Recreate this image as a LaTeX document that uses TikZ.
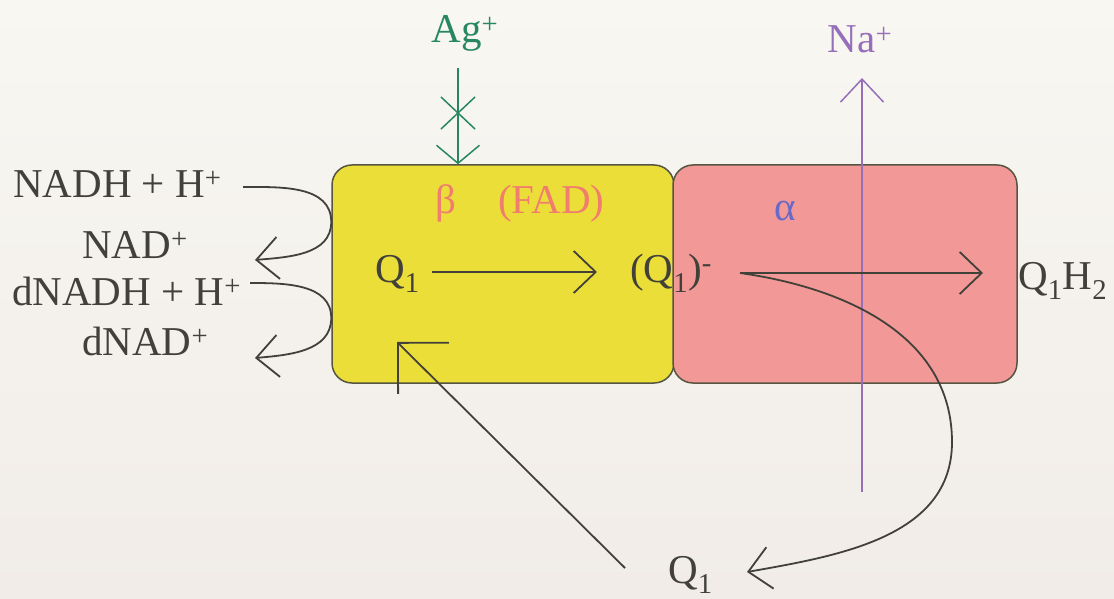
\documentclass[tikz,border=0pt]{standalone}
\usepackage{fontspec}
\setmainfont{Liberation Serif}
\usetikzlibrary{arrows.meta,calc}
\definecolor{papertop}{RGB}{248,247,242}
\definecolor{paperbot}{RGB}{241,236,232}
\definecolor{fadyellow}{RGB}{236,222,56}
\definecolor{subpink}{RGB}{242,152,150}
\definecolor{edge}{RGB}{85,85,65}
\definecolor{ink}{RGB}{65,65,58}
\definecolor{agreen}{RGB}{40,135,95}
\definecolor{napurple}{RGB}{150,110,185}
\definecolor{betared}{RGB}{240,125,110}
\definecolor{alphablue}{RGB}{105,105,200}

\begin{document}
\begin{tikzpicture}[x=1pt,y=1pt,
  lbl/.style={inner sep=0pt,anchor=base west,text=ink,font=\fontsize{41}{48}\selectfont},
  subunit/.style={draw=edge,line width=1.5pt,rounded corners=20pt,
    minimum width=#1,minimum height=218pt,inner sep=0pt},
  barb/.style={draw=ink,line width=1.8pt,-{Straight Barb[length=22pt,width=42pt]}},
  ion/.style={line width=1.5pt,-{Straight Barb[length=#1,width=43pt]}}]
  \useasboundingbox (0,0) rectangle (1114,-599);
  \shade[top color=papertop,bottom color=paperbot] (0,0) rectangle (1114,-599);

  % the two subunits
  \node[subunit=342pt,fill=fadyellow] (yel) at (503,-274) {};
  \node[subunit=344pt,fill=subpink] (pnk) at (845,-274) {};

  % Ag+ (blocked) and Na+
  \node[lbl,anchor=base,text=agreen] (ag) at (465,-43) {Ag\textsuperscript{+}};
  \coordinate (agx) at (458,-113);
  \draw[ion=18pt,draw=agreen] ($(ag.base)+(-7,-25)$) -- (agx |- yel.north);
  \draw[agreen,line width=1.5pt] ($(agx)+(-17,16)$) -- ($(agx)+(17,-16)$)
    ($(agx)+(-17,-16)$) -- ($(agx)+(17,16)$);
  \node[lbl,anchor=base,text=napurple] (na) at (860,-53) {Na\textsuperscript{+}};
  \coordinate (nabot) at (862,-492);
  \draw[ion=23pt,draw=napurple] (nabot) -- ($(nabot |- na.base)+(0,-25)$);

  % NADH / dNADH side
  \node[lbl] (nadh) at (13,-197) {NADH + H\textsuperscript{+}};
  \node[lbl] (nad) at (82,-258) {NAD\textsuperscript{+}};
  \node[lbl] (dnadh) at (12,-305) {dNADH + H\textsuperscript{+}};
  \node[lbl] (dnad) at (82,-355) {dNAD\textsuperscript{+}};
  \draw[barb] ($(nadh.base west)+(230,10)$) to[out=0,in=90] (yel.west |- 0,-222)
    to[out=-90,in=5] ($(nad.base west)+(173,-2)$);
  \draw[barb] ($(dnadh.base west)+(238,22)$) to[out=0,in=90] (yel.west |- 0,-318)
    to[out=-90,in=5] ($(dnad.base west)+(173,-3)$);

  % labels in the boxes
  \node[lbl,text=betared] (fad) at (435,-213) {β\hspace{42pt}(FAD)};
  \node[lbl,anchor=base,text=alphablue] (alpha) at (785,-220) {α};
  \node[lbl] (qa) at (375,-282) {Q\textsubscript{1}};
  \node[lbl] (qm) at (630,-282) {(Q\textsubscript{1})\textsuperscript{-}};
  \node[lbl] (qh) at (1018,-289) {Q\textsubscript{1}H\textsubscript{2}};
  \node[lbl] (qb) at (668,-583) {Q\textsubscript{1}};

  % quinone path
  \draw[barb] ($(qa.base west)+(57,10)$) -- ($(qm.base west)+(-33,10)$);
  \draw[barb] ($(qm.base west)+(110,9)$) coordinate (qfrom)
    -- ($(qh.base west)+(-35,16)$);
  \coordinate (bend) at (952,-442);
  \draw[barb] (qfrom) to[out=-8,in=90] (bend)
    to[out=-90,in=10] ($(qb.base west)+(79,11)$);
  \coordinate (qin) at (397,-342);
  \draw[barb,-{Straight Barb[length=36pt,width=72pt]}]
    ($(qb.base west)+(-43,15)$) -- (qin);
\end{tikzpicture}
\end{document}
